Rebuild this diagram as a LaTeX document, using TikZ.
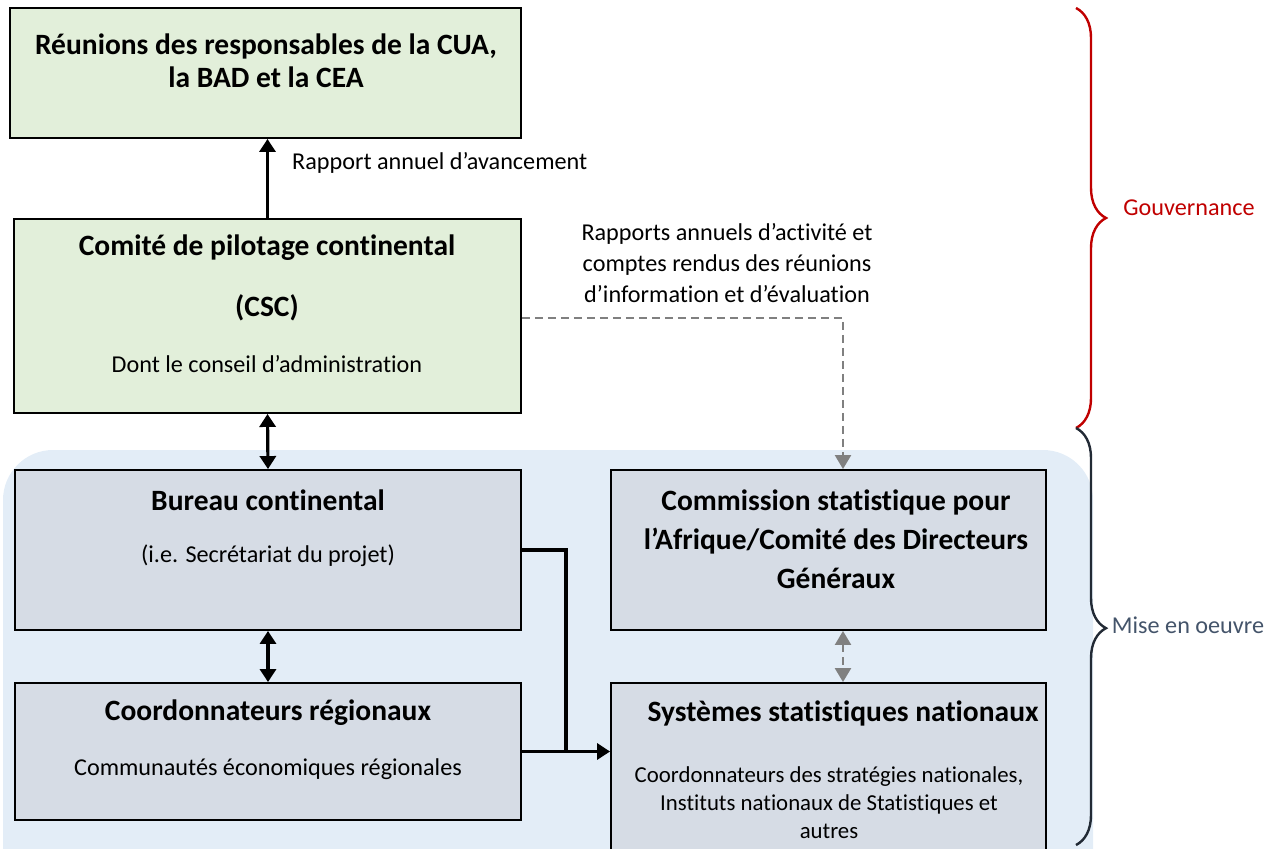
\documentclass[tikz,border=0pt]{standalone}
\usepackage{fontspec}
\setmainfont{Carlito}[Ligatures=NoCommon]
\usetikzlibrary{arrows.meta,decorations.pathreplacing}
\definecolor{vertpale}{HTML}{E2EFDA}
\definecolor{grisbleu}{HTML}{D6DCE5}
\definecolor{bleufond}{HTML}{E3EDF7}
\definecolor{rougeacc}{HTML}{C00000}
\definecolor{ardoise}{HTML}{44546A}
\definecolor{encre}{HTML}{222A35}
\tikzset{
  boite/.style={draw=black,line width=1.9pt,inner sep=0,minimum width=#1},
  titre/.style={font=\fontsize{29.5}{33}\selectfont\bfseries,align=center,inner sep=0},
  texte/.style={font=\fontsize{24.2}{29}\selectfont,align=center,inner sep=0},
  fleche/.style={line width=3.2pt,-{Triangle[length=13pt,width=16pt]}},
  fleches/.style={line width=3.2pt,{Triangle[length=13pt,width=16pt]}-{Triangle[length=13pt,width=16pt]}},
  tirets/.style={gray,line width=2.4pt,dash pattern=on 8pt off 5pt},
  accolade/.style={line width=2.4pt,decorate,decoration={brace,amplitude=30pt,#1}}
}
\begin{document}
\begin{tikzpicture}[x=1pt,y=-1pt]
\useasboundingbox (0,0) rectangle (1273,848);
% fond de la mise en oeuvre
\fill[bleufond,rounded corners=50pt] (3,450) rectangle (1093,900);
% gouvernance
\node[boite=511,minimum height=130,fill=vertpale] (reunion) at (265.5,73) {};
\node[titre] (reunion_t) at (266,61) {Réunions des responsables de la CUA,\\la BAD et la CEA};
\node[boite=507,minimum height=194,fill=vertpale] (csc) at (267.5,316) {};
\node[titre] (csc_t) at (267,248) {Comité de pilotage continental};
\node[titre] (csc_s) at (267,308) {(CSC)};
\node[texte] (csc_d) at (267,364) {Dont le conseil d’administration};
% mise en oeuvre
\node[boite=506,minimum height=160,fill=grisbleu] (bureau) at (268,550) {};
\node[titre] (bureau_t) at (268,500) {Bureau continental};
\node[texte] (bureau_d) at (268,556) {(i.e. Secrétariat du projet)};
\node[boite=435,minimum height=160,fill=grisbleu] (commission) at (828.5,550) {};
\node[titre,font=\fontsize{29.5}{39}\selectfont\bfseries] (commission_t) at (836,539) {Commission statistique pour\\l’Afrique/Comité des Directeurs\\Généraux};
\node[boite=506,minimum height=137,fill=grisbleu] (coord) at (268,751.5) {};
\node[titre] (coord_t) at (268,713) {Coordonnateurs régionaux};
\node[texte] (coord_d) at (268,769) {Communautés économiques régionales};
\node[boite=435,minimum height=200,fill=grisbleu] (systemes) at (828.5,783) {};
\node[titre] (systemes_t) at (843,713) {Systèmes statistiques nationaux};
\node[texte,font=\fontsize{22.8}{28}\selectfont] (systemes_d) at (829,803) {Coordonnateurs des stratégies nationales,\\Instituts nationaux de Statistiques et\\autres};
% liaisons
\coordinate (jonction) at (566,752);
\coordinate (rapports) at (843,318);
\draw[fleche] (csc.north) -- (csc.north |- reunion.south);
\node[texte,anchor=west] (rapport_l) at (292,163) {Rapport annuel d’avancement};
\draw[fleches] (csc.south) -- (bureau.north);
\draw[fleches] (bureau.south) -- (coord.north);
\draw[line width=3.2pt] (bureau.east) -| (jonction);
\draw[fleche] (coord.east) -- (coord.east -| systemes.west);
\draw[tirets,-{Triangle[length=14pt,width=16pt]}] (csc.east |- rapports) -- (rapports) -- (rapports |- commission.north);
\node[texte,font=\fontsize{24.2}{31}\selectfont] (rapports_l) at (727,263) {Rapports annuels d’activité et\\comptes rendus des réunions\\d’information et d’évaluation};
\draw[tirets,{Triangle[length=14pt,width=16pt]}-{Triangle[length=14pt,width=16pt]}] (commission.south -| rapports) -- (systemes.north -| rapports);
% accolades
\draw[accolade=,rougeacc] (1076,8) -- (1076,428);
\node[texte,text=rougeacc] (gouv) at (1189,208) {Gouvernance};
\draw[accolade={aspect=0.48},encre] (1076,428) -- (1076,845);
\node[texte,text=ardoise] (mise) at (1188,625) {Mise en oeuvre};
\end{tikzpicture}
\end{document}
